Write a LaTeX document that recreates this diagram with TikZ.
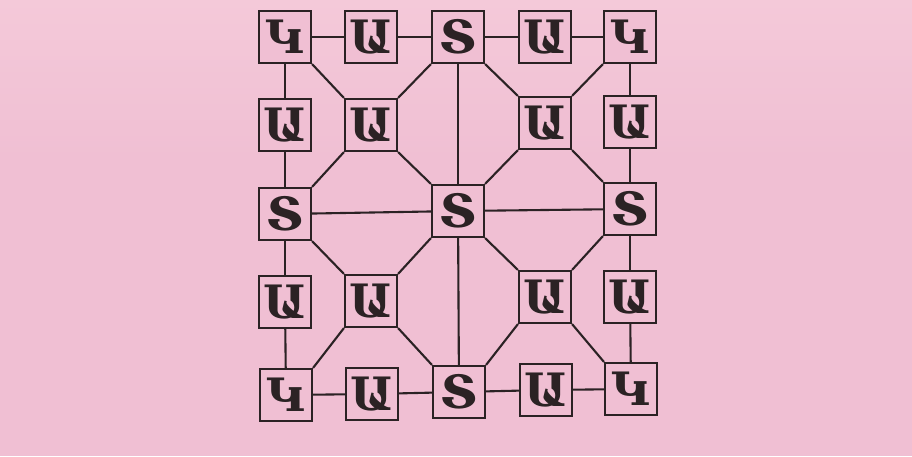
\documentclass[tikz,border=0pt]{standalone}
\usepackage{fontspec}
\newfontfamily\armfont{DejaVu Serif}
\definecolor{bg}{HTML}{F0BFD3}
\definecolor{bgtop}{HTML}{F4C9D9}
\definecolor{ink}{HTML}{2B2224}
\begin{document}
\begin{tikzpicture}[x=1pt,y=-1pt,
  box/.style={draw=ink, line width=2.1pt, fill=bg, minimum size=52pt, inner sep=0pt,
    font=\armfont\bfseries\fontsize{46}{46}\selectfont, text=ink},
  link/.style={draw=ink, line width=2.1pt}]
\useasboundingbox (0,0) rectangle (912,456);
\shade[top color=bgtop, bottom color=bg] (0,0) rectangle (912,160);
\fill[bg] (0,159) rectangle (912,456);
% row 1
\node[box] (r1c1) at (285,37) {Կ};
\node[box] (r1c2) at (371,37) {Ա};
\node[box] (r1c3) at (458,37) {Տ};
\node[box] (r1c4) at (545,37) {Ա};
\node[box] (r1c5) at (630,37) {Կ};
% row 2
\node[box] (r2c1) at (285,125) {Ա};
\node[box] (r2c2) at (371,125) {Ա};
\node[box] (r2c4) at (545,123) {Ա};
\node[box] (r2c5) at (630,122) {Ա};
% row 3
\node[box] (r3c1) at (285,214) {Տ};
\node[box] (r3c3) at (458,211) {Տ};
\node[box] (r3c5) at (630,209) {Տ};
% row 4
\node[box] (r4c1) at (285,302) {Ա};
\node[box] (r4c2) at (371,301) {Ա};
\node[box] (r4c4) at (545,297) {Ա};
\node[box] (r4c5) at (630,297) {Ա};
% row 5
\node[box] (r5c1) at (286,395) {Կ};
\node[box] (r5c2) at (372,394) {Ա};
\node[box] (r5c3) at (459,392) {Տ};
\node[box] (r5c4) at (546,390) {Ա};
\node[box] (r5c5) at (631,389) {Կ};
% horizontal links
\draw[link] (r1c1) -- (r1c2);
\draw[link] (r1c2) -- (r1c3);
\draw[link] (r1c3) -- (r1c4);
\draw[link] (r1c4) -- (r1c5);
\draw[link] (r5c1) -- (r5c2);
\draw[link] (r5c2) -- (r5c3);
\draw[link] (r5c3) -- (r5c4);
\draw[link] (r5c4) -- (r5c5);
\draw[link] (r3c1) -- (r3c3);
\draw[link] (r3c3) -- (r3c5);
% vertical links
\draw[link] (r1c1) -- (r2c1);
\draw[link] (r2c1) -- (r3c1);
\draw[link] (r3c1) -- (r4c1);
\draw[link] (r4c1) -- (r5c1);
\draw[link] (r1c5) -- (r2c5);
\draw[link] (r2c5) -- (r3c5);
\draw[link] (r3c5) -- (r4c5);
\draw[link] (r4c5) -- (r5c5);
\draw[link] (r1c3) -- (r3c3);
\draw[link] (r3c3) -- (r5c3);
% diagonals, upper half
\draw[link] (r1c1.south east) -- (r2c2.north west);
\draw[link] (r2c2.north east) -- (r1c3.south west);
\draw[link] (r1c3.south east) -- (r2c4.north west);
\draw[link] (r2c4.north east) -- (r1c5.south west);
\draw[link] (r2c2.south west) -- (r3c1.north east);
\draw[link] (r2c2.south east) -- (r3c3.north west);
\draw[link] (r2c4.south west) -- (r3c3.north east);
\draw[link] (r2c4.south east) -- (r3c5.north west);
% diagonals, lower half
\draw[link] (r3c1.south east) -- (r4c2.north west);
\draw[link] (r3c3.south west) -- (r4c2.north east);
\draw[link] (r3c3.south east) -- (r4c4.north west);
\draw[link] (r3c5.south west) -- (r4c4.north east);
\draw[link] (r4c2.south west) -- (r5c1.north east);
\draw[link] (r4c2.south east) -- (r5c3.north west);
\draw[link] (r4c4.south west) -- (r5c3.north east);
\draw[link] (r4c4.south east) -- (r5c5.north west);
\end{tikzpicture}
\end{document}
